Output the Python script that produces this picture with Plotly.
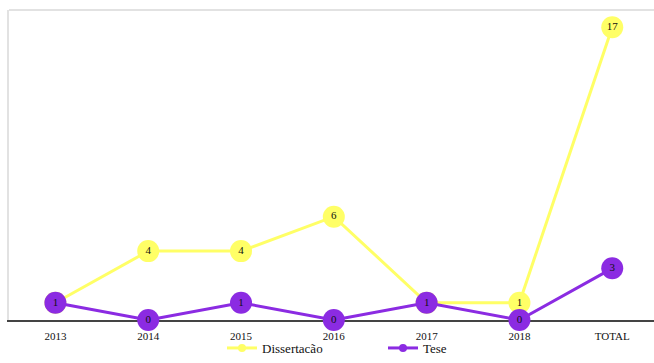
import plotly.graph_objects as go

categories = ["2013", "2014", "2015", "2016", "2017", "2018", "TOTAL"]
dissertacao = [1, 4, 4, 6, 1, 1, 17]
tese = [1, 0, 1, 0, 1, 0, 3]

font_family = "Liberation Serif, Times New Roman, serif"
yellow = "#ffff66"
purple = "#8b2be2"

fig = go.Figure()
for name, vals, col in [("Dissertacão", dissertacao, yellow), ("Tese", tese, purple)]:
    fig.add_trace(go.Scatter(
        x=categories, y=vals, name=name, showlegend=False,
        mode="lines+markers+text", text=[str(v) for v in vals],
        textposition="middle center", textfont=dict(family=font_family, size=11, color="#111"),
        line=dict(color=col, width=3), marker=dict(color=col, size=22),
        cliponaxis=False,
    ))
for name, col in [("Dissertacão", yellow), ("Tese", purple)]:
    fig.add_trace(go.Scatter(
        x=[None], y=[None], name=name, mode="lines+markers",
        line=dict(color=col, width=3), marker=dict(color=col, size=8),
    ))

fig.update_layout(
    width=654, height=363,
    margin=dict(l=9, r=0, t=10, b=43),
    paper_bgcolor="white", plot_bgcolor="white",
    font=dict(family=font_family, size=12, color="#111"),
    showlegend=True,
    legend=dict(orientation="h", x=(222 - 9) / 645, xanchor="left", y=-43/310, yanchor="bottom",
                bgcolor="rgba(0,0,0,0)",
                font=dict(family=font_family, size=13, color="#111"),
                entrywidth=116, entrywidthmode="pixels", tracegroupgap=0),
    xaxis=dict(type="category", range=[-0.5, 6.45], showgrid=False, zeroline=False,
               showline=True, linecolor="#444", linewidth=2, ticks="outside", ticklen=5,
               tickcolor="rgba(0,0,0,0)", layer="below traces",
               tickfont=dict(family=font_family, size=11, color="#111")),
    yaxis=dict(range=[0, 18], showgrid=False, zeroline=False, showticklabels=False,
               showline=True, linecolor="#e2e2e2", linewidth=2, ticks="", layer="below traces"),
    shapes=[dict(type="line", xref="paper", yref="paper", x0=0, x1=1, y0=1, y1=1,
                 layer="below", line=dict(color="#e2e2e2", width=2))],
)

fig.write_html("out.html", config={"displayModeBar": False},
               post_script="document.body.style.margin='0';")
